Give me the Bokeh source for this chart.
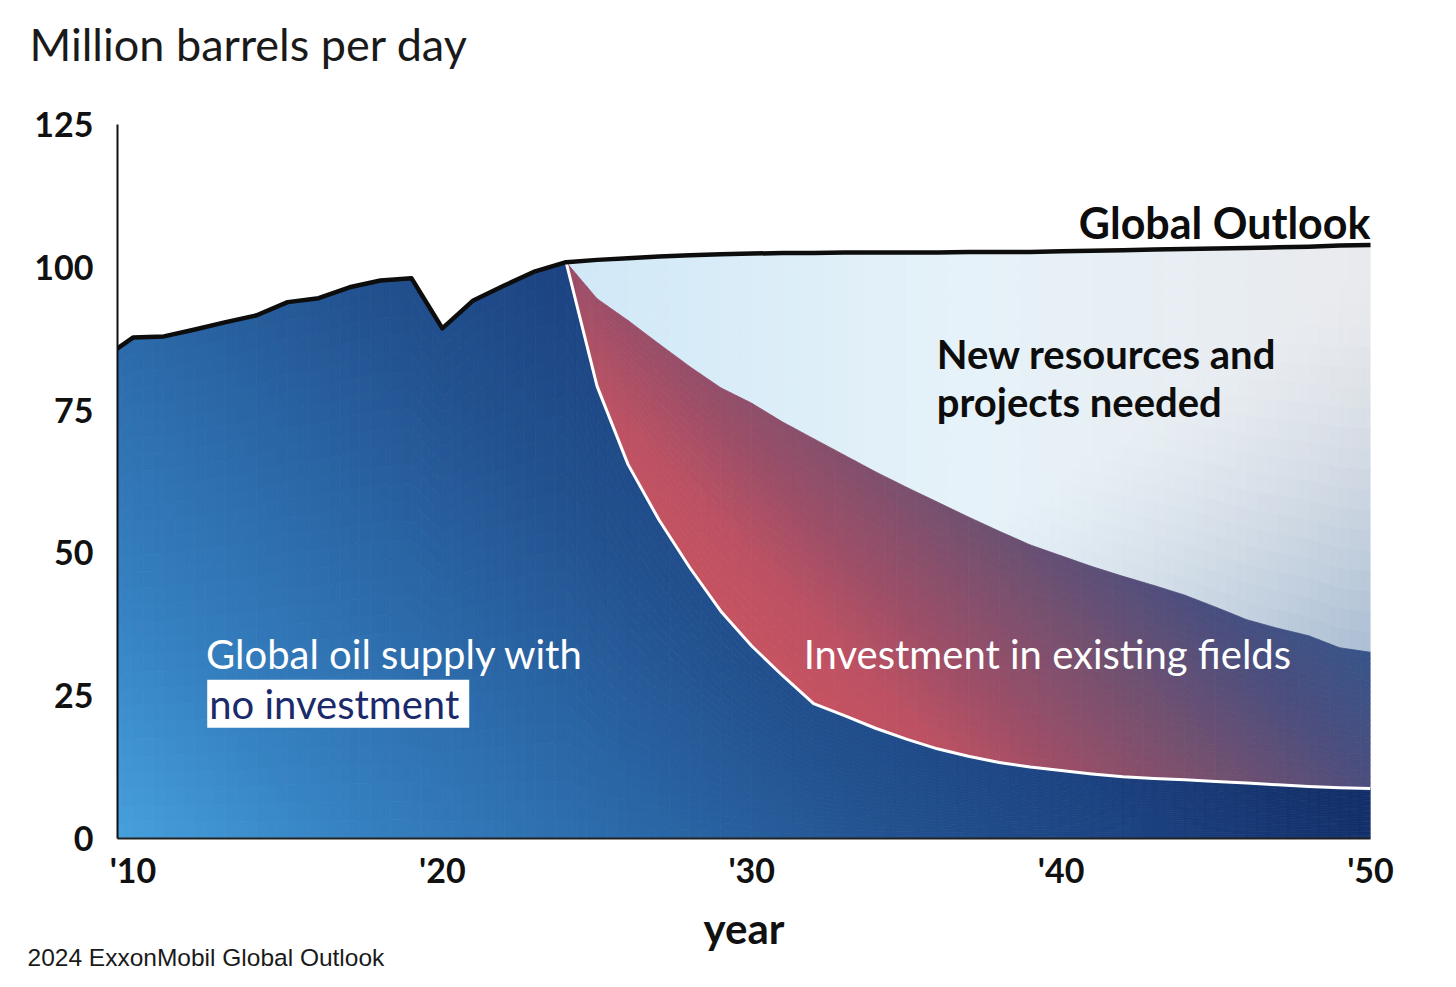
import numpy as np
from bokeh.plotting import figure
from bokeh.models import Range1d, FixedTicker, Label, ColumnDataSource, Title
from bokeh.embed import file_html
from bokeh.resources import INLINE

# ---------------------------------------------------------------------------
# Data (million barrels per day)
# ---------------------------------------------------------------------------
hist_years = list(range(2009, 2025))
hist_supply = [83.9, 87.7, 87.9, 89.1, 90.4, 91.6, 93.9, 94.6, 96.5, 97.7,
               98.1, 89.3, 94.2, 96.8, 99.3, 100.9]

proj_years = list(range(2024, 2051))
outlook_demand = [100.9, 101.3, 101.6, 101.9, 102.1, 102.3, 102.4, 102.5, 102.5, 102.6,
                  102.6, 102.6, 102.6, 102.7, 102.7, 102.7, 102.8, 102.9, 103.0, 103.1,
                  103.2, 103.3, 103.4, 103.5, 103.6, 103.8, 103.9]
with_field_investment = [100.9, 94.5, 90.7, 86.6, 82.6, 78.9, 76.2, 72.9, 70.0, 67.1,
                         64.2, 61.5, 58.9, 56.3, 53.8, 51.4, 49.5, 47.6, 45.9, 44.3,
                         42.6, 40.5, 38.3, 36.8, 35.5, 33.4, 32.6]
no_investment = [100.9, 79.2, 65.5, 55.8, 47.4, 39.8, 33.7, 28.5, 23.6, 21.5,
                 19.3, 17.4, 15.7, 14.4, 13.3, 12.5, 11.9, 11.3, 10.8, 10.5,
                 10.3, 10.0, 9.7, 9.4, 9.1, 8.9, 8.75]

x_ticks = [2010, 2020, 2030, 2040, 2050]
x_tick_labels = ["'10", "'20", "'30", "'40", "'50"]
y_ticks = [0, 25, 50, 75, 100, 125]

X_START, X_END = 2009.5, 2050
Y_MAX = 125

# ---------------------------------------------------------------------------
# Colour helpers for the shaded bands
# ---------------------------------------------------------------------------
def hex_rgb(h):
    h = h.lstrip("#")
    return np.array([int(h[i:i + 2], 16) for i in (0, 2, 4)], dtype=float)


def rgb_hex(c):
    c = np.clip(np.round(c), 0, 255).astype(int)
    return "#%02x%02x%02x" % tuple(c)


def ramp(stops, t):
    pos = [s[0] for s in stops]
    cols = [hex_rgb(s[1]) for s in stops]
    t = min(max(t, pos[0]), pos[-1])
    for i in range(len(pos) - 1):
        if t <= pos[i + 1]:
            f = (t - pos[i]) / (pos[i + 1] - pos[i])
            return cols[i] * (1 - f) + cols[i + 1] * f
    return cols[-1]


BLUE_STOPS = [(0.0, "#46a0dc"), (0.15, "#3682c2"), (0.3, "#2d6dad"), (0.5, "#22518f"),
              (0.65, "#1c4281"), (0.8, "#13306a"), (1.0, "#102a60")]
RED_STOPS = [(0.0, "#cd5461"), (0.3, "#c85360"), (0.4, "#bc5163"), (0.49, "#9e4e67"),
             (0.63, "#75506f"), (0.78, "#4b4e7e"), (0.92, "#34558b")]


def blue_color(x, y):
    u = (x - X_START) / (X_END - X_START)
    v = y / Y_MAX
    return rgb_hex(ramp(BLUE_STOPS, 0.8 * u + 0.45 * v))


def red_color(x, y):
    u = (x - 2024) / 26.0
    v = (y - 8) / 93.0
    return rgb_hex(ramp(RED_STOPS, 0.77 * u + 0.5 * v))


LIGHT_TL, LIGHT_MID, LIGHT_TR = hex_rgb("#d0e8f7"), hex_rgb("#e6f2f9"), hex_rgb("#e9eaed")
LIGHT_DARK = hex_rgb("#a9bdd3")


def light_color(x, y):
    u = (x - 2024) / 26.0
    v = (y - 32) / 72.0
    if u < 0.5:
        base = LIGHT_TL * (1 - 2 * u) + LIGHT_MID * (2 * u)
    else:
        base = LIGHT_MID * (2 - 2 * u) + LIGHT_TR * (2 * u - 1)
    w = min(max((u - 0.8 * v - 0.25) / 0.75, 0.0), 1.0) ** 1.4
    return rgb_hex(base * (1 - w) + LIGHT_DARK * w)


def band_cells(xs, lo, hi, color_fn, nsub=3, nlev=24):
    """Split the band between two piecewise-linear curves into small
    trapezoids so each can carry its own shade."""
    out_x, out_y, cols = [], [], []
    for i in range(len(xs) - 1):
        for s in range(nsub):
            a, b = s / nsub, (s + 1) / nsub
            xa = xs[i] + (xs[i + 1] - xs[i]) * a
            xb = xs[i] + (xs[i + 1] - xs[i]) * b
            la = lo[i] + (lo[i + 1] - lo[i]) * a
            lb = lo[i] + (lo[i + 1] - lo[i]) * b
            ha = hi[i] + (hi[i + 1] - hi[i]) * a
            hb = hi[i] + (hi[i + 1] - hi[i]) * b
            for k in range(nlev):
                t0, t1 = k / nlev, (k + 1) / nlev
                ya0, ya1 = la + (ha - la) * t0, la + (ha - la) * t1
                yb0, yb1 = lb + (hb - lb) * t0, lb + (hb - lb) * t1
                out_x.append([xa, xb, xb, xa])
                out_y.append([ya0, yb0, yb1, ya1])
                cols.append(color_fn((xa + xb) / 2, (ya0 + ya1 + yb0 + yb1) / 4))
    return ColumnDataSource(dict(xs=out_x, ys=out_y, color=cols))


# ---------------------------------------------------------------------------
# Figure
# ---------------------------------------------------------------------------
p = figure(width=1456, height=987, output_backend="svg", toolbar_location=None,
           x_range=Range1d(X_START, X_END), y_range=Range1d(0, Y_MAX),
           min_border_left=117, min_border_right=86, min_border_top=124,
           min_border_bottom=149)
p.outline_line_color = None
p.background_fill_color = "white"
p.border_fill_color = "white"
p.xgrid.grid_line_color = None
p.ygrid.grid_line_color = None

# blank strip between the unit caption and the plot area
p.add_layout(Title(text=" ", standoff=28, text_font_size="10px", text_color="white"), "above")
p.title = Title(text="Million barrels per day", align="left", offset=-88, standoff=25,
                text_font="Lato", text_font_size="45px", text_font_style="normal",
                text_color="#1a1a1a")
p.add_layout(Title(text="2024 ExxonMobil Global Outlook", align="left", offset=-90,
                   standoff=-28, text_font="Liberation Sans", text_font_size="24.5px",
                   text_font_style="normal", text_color="#1a1a1a"), "below")

all_years = hist_years + proj_years[1:]
top_line = hist_supply + outlook_demand[1:]
base_supply = hist_supply + no_investment[1:]

# shaded bands
blue_src = band_cells(all_years, [0.0] * len(all_years), base_supply, blue_color, nsub=3, nlev=30)
red_src = band_cells(proj_years, no_investment, with_field_investment, red_color, nsub=3, nlev=24)
light_src = band_cells(proj_years, with_field_investment, outlook_demand, light_color, nsub=3, nlev=20)

for src in (light_src, red_src, blue_src):
    p.patches("xs", "ys", source=src, fill_color="color", line_color="color", line_width=0.8)

# boundary lines
p.line(proj_years, no_investment, line_color="white", line_width=3, line_join="round")
p.line(all_years, top_line, line_color="#0d0d0d", line_width=4.5, line_join="round", line_cap="round")

# ---------------------------------------------------------------------------
# Axes
# ---------------------------------------------------------------------------
xa = p.xaxis[0]
xa.ticker = FixedTicker(ticks=x_ticks)
xa.major_label_overrides = {t: l for t, l in zip(x_ticks, x_tick_labels)}
xa.major_tick_line_color = None
xa.minor_tick_line_color = None
xa.axis_line_color = "#222222"
xa.axis_line_width = 2
xa.major_label_text_font = "Lato"
xa.major_label_text_font_size = "34px"
xa.major_label_text_font_style = "bold"
xa.major_label_text_color = "#111111"
xa.major_label_standoff = 4
xa.axis_label = "year"
xa.axis_label_text_font = "Lato"
xa.axis_label_text_font_size = "42px"
xa.axis_label_text_font_style = "bold"
xa.axis_label_text_color = "#111111"
xa.axis_label_standoff = 10

ya = p.yaxis[0]
ya.ticker = FixedTicker(ticks=y_ticks)
ya.major_tick_line_color = None
ya.minor_tick_line_color = None
ya.axis_line_color = "#111111"
ya.axis_line_width = 2
ya.major_label_text_font = "Lato"
ya.major_label_text_font_size = "34px"
ya.major_label_text_font_style = "bold"
ya.major_label_text_color = "#111111"
ya.major_label_standoff = 18

# ---------------------------------------------------------------------------
# Text in the plot area
# ---------------------------------------------------------------------------
def add_label(text, x, y, size, color, style="normal", align="left", **kw):
    p.add_layout(Label(x=x, y=y, text=text, text_font="Lato", text_font_size=size,
                       text_color=color, text_font_style=style, text_align=align,
                       text_baseline="middle", **kw))


add_label("Global Outlook", 2050, 107.9, "43px", "#0d0d0d", style="bold", align="right")
add_label("New resources and", 2035.98, 84.8, "40px", "#0d0d0d", style="bold")
add_label("projects needed", 2035.98, 76.4, "40px", "#0d0d0d", style="bold")
add_label("Investment in existing fields", 2031.68, 32.3, "40px", "white")
add_label("Global oil supply with", 2012.36, 32.3, "40px", "white")
add_label("no investment", 2012.4, 23.6, "40px", "#1b2a6b",
          background_fill_color="white",
          padding=dict(left=2, right=10, top=0, bottom=0))

open("out.html", "w").write(file_html(p, INLINE))
